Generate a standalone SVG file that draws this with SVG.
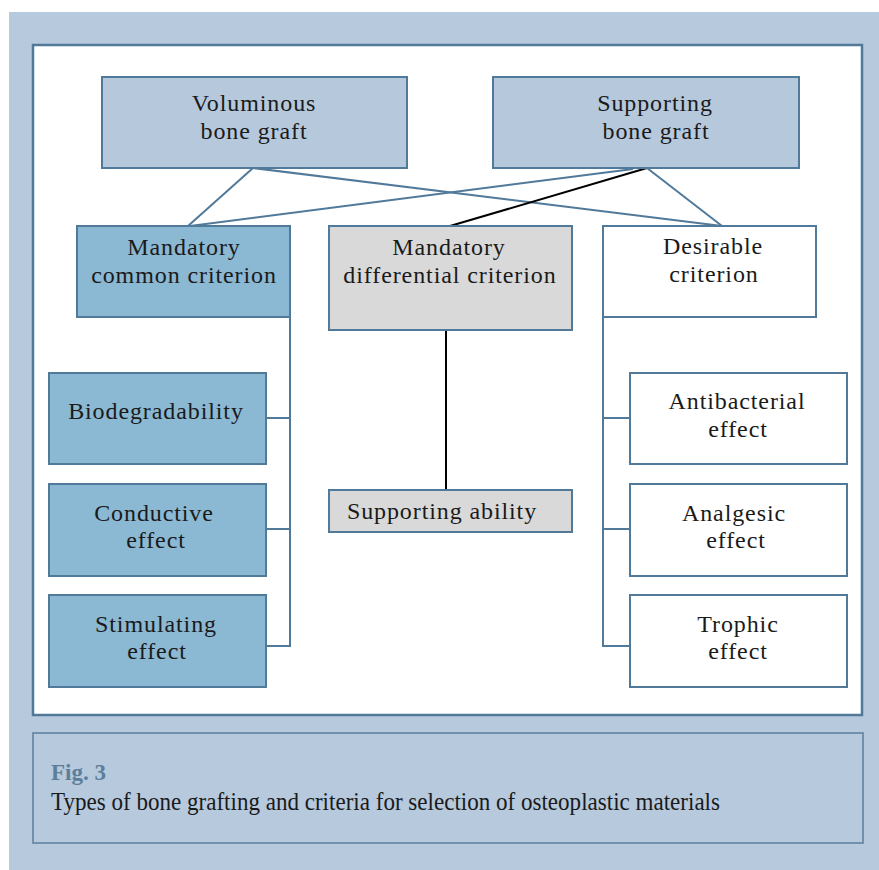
<svg xmlns="http://www.w3.org/2000/svg" width="879" height="870" viewBox="0 0 879 870">
<style>
.box{stroke:#50799a;stroke-width:2}
.blue{fill:#b5c8dc}
.mid{fill:#8bb8d2}
.gray{fill:#d9d9d9}
.white{fill:#ffffff}
.t{font-family:"Liberation Serif",serif;font-size:24px;fill:#1a1a1a;text-anchor:middle;letter-spacing:0.9px}
.c{fill:none;stroke:#50799a;stroke-width:2}
.k{fill:none;stroke:#000000;stroke-width:2}
</style>
<rect x="9" y="12" width="870" height="858" fill="#b6c9dd"/>
<rect x="33" y="45" width="829" height="670" fill="#ffffff" stroke="#50799a" stroke-width="2.5"/>
<g id="connectors">
<line class="c" x1="253" y1="168" x2="188" y2="226"/>
<line class="c" x1="253" y1="168" x2="722" y2="226"/>
<line class="c" x1="633" y1="169" x2="190" y2="226"/>
<line class="c" x1="647" y1="168" x2="722" y2="226"/>
<line class="k" x1="647" y1="168" x2="450" y2="226"/>
<polyline class="c" points="290,317 290,646 266,646"/>
<line class="c" x1="266" y1="418" x2="290" y2="418"/>
<line class="c" x1="266" y1="529" x2="290" y2="529"/>
<polyline class="c" points="603,317 603,646 630,646"/>
<line class="c" x1="603" y1="418" x2="630" y2="418"/>
<line class="c" x1="603" y1="529" x2="630" y2="529"/>
<line class="k" x1="446" y1="330" x2="446" y2="490"/>
</g>
<g id="voluminous">
<rect class="box blue" x="102" y="77" width="305" height="91"/>
<text class="t" x="254" y="111">Voluminous</text>
<text class="t" x="254" y="139">bone graft</text>
</g>
<g id="supporting-graft">
<rect class="box blue" x="493" y="77" width="306" height="91"/>
<text class="t" x="655" y="111">Supporting</text>
<text class="t" x="656" y="139">bone graft</text>
</g>
<g id="mandatory-common">
<rect class="box mid" x="77" y="226" width="213" height="91"/>
<text class="t" x="184" y="255">Mandatory</text>
<text class="t" x="184" y="283">common criterion</text>
</g>
<g id="mandatory-differential">
<rect class="box gray" x="329" y="226" width="243" height="104"/>
<text class="t" x="449" y="255">Mandatory</text>
<text class="t" x="450" y="283">differential criterion</text>
</g>
<g id="desirable">
<rect class="box white" x="603" y="226" width="213" height="91"/>
<text class="t" x="713" y="254">Desirable</text>
<text class="t" x="714" y="282">criterion</text>
</g>
<g id="biodegradability">
<rect class="box mid" x="49" y="373" width="217" height="91"/>
<text class="t" x="156" y="419">Biodegradability</text>
</g>
<g id="conductive">
<rect class="box mid" x="49" y="484" width="217" height="92"/>
<text class="t" x="154" y="521">Conductive</text>
<text class="t" x="156" y="548">effect</text>
</g>
<g id="stimulating">
<rect class="box mid" x="49" y="595" width="217" height="92"/>
<text class="t" x="156" y="632">Stimulating</text>
<text class="t" x="157" y="659">effect</text>
</g>
<g id="supporting-ability">
<rect class="box gray" x="329" y="490" width="243" height="42"/>
<text class="t" x="442" y="519">Supporting ability</text>
</g>
<g id="antibacterial">
<rect class="box white" x="630" y="373" width="217" height="91"/>
<text class="t" x="737" y="409">Antibacterial</text>
<text class="t" x="738" y="437">effect</text>
</g>
<g id="analgesic">
<rect class="box white" x="630" y="484" width="217" height="92"/>
<text class="t" x="734" y="521">Analgesic</text>
<text class="t" x="736" y="548">effect</text>
</g>
<g id="trophic">
<rect class="box white" x="630" y="595" width="217" height="92"/>
<text class="t" x="738" y="632">Trophic</text>
<text class="t" x="738" y="659">effect</text>
</g>
<g id="caption">
<rect x="33" y="733" width="830" height="110" fill="#b6c9dd" stroke="#5a7f9c" stroke-width="1.5"/>
<text x="51" y="780" font-family="Liberation Serif, serif" font-weight="bold" font-size="23" fill="#5b7f9a" textLength="55" lengthAdjust="spacingAndGlyphs">Fig. 3</text>
<text x="51" y="810" font-family="Liberation Serif, serif" font-size="25" fill="#1a1a1a" textLength="669" lengthAdjust="spacingAndGlyphs">Types of bone grafting and criteria for selection of osteoplastic materials</text>
</g>
</svg>
